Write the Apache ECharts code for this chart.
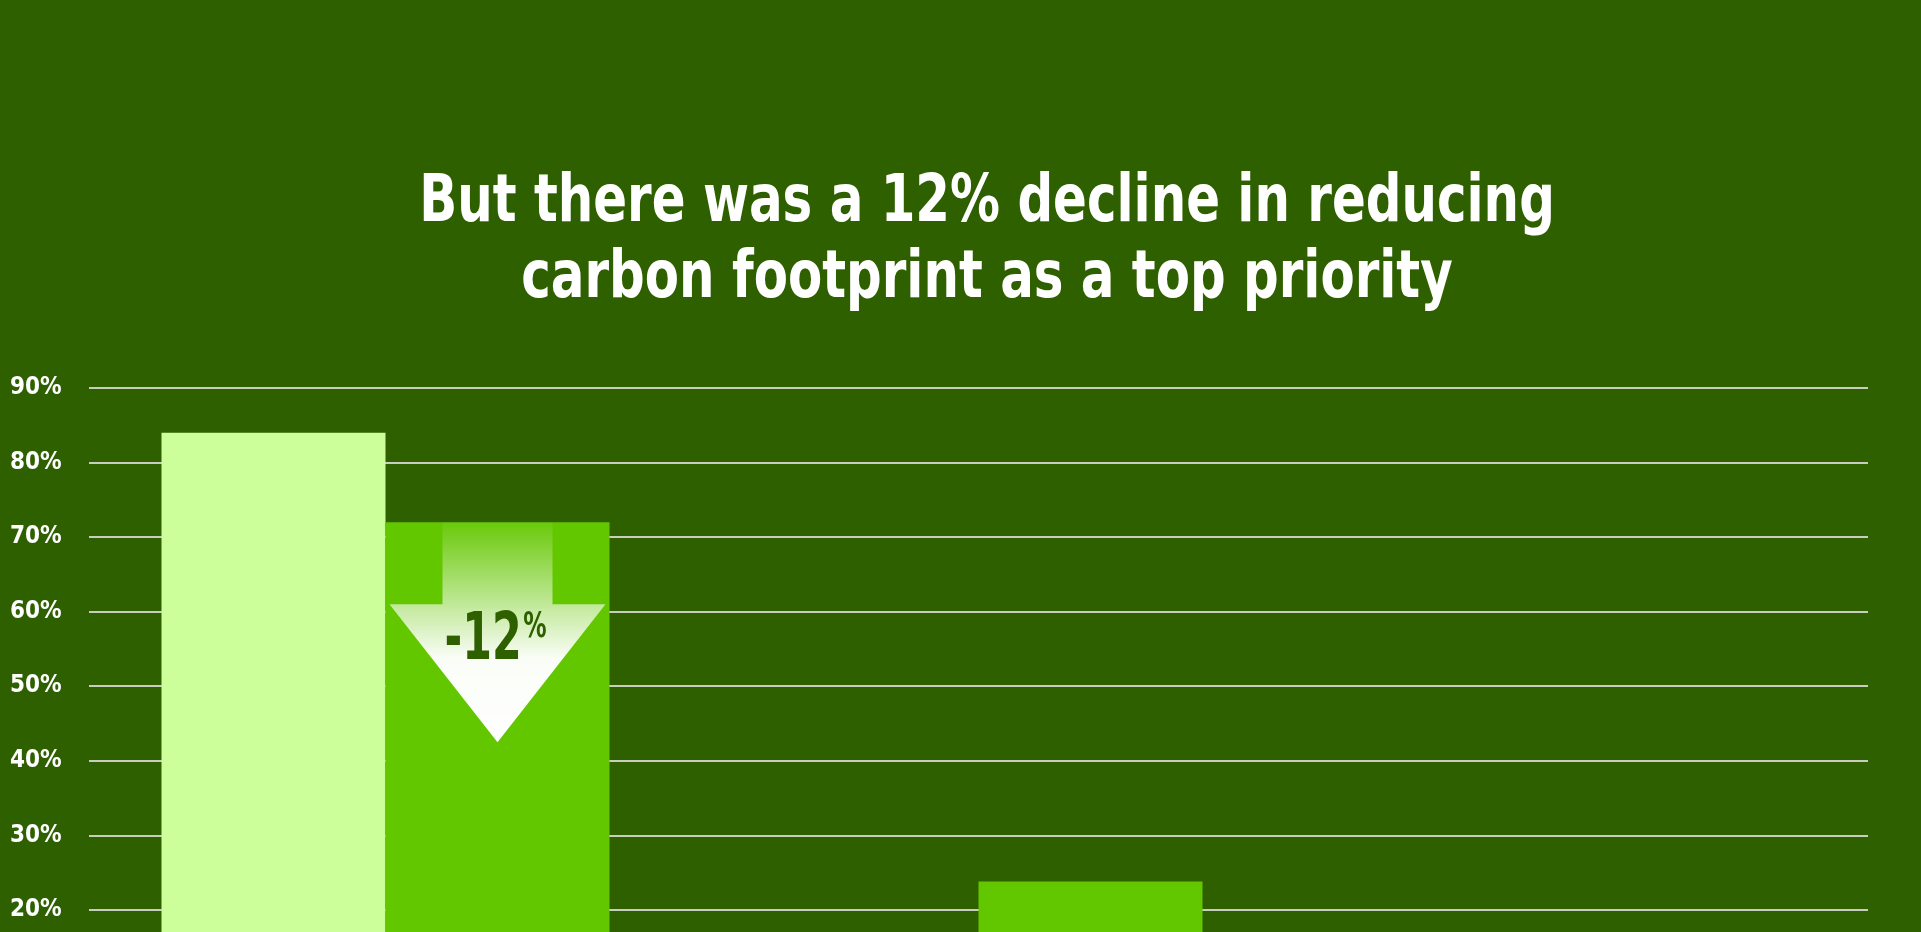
<!DOCTYPE html>
<html>
<head>
<meta charset="utf-8">
<script src="https://cdn.jsdelivr.net/npm/echarts@6/dist/echarts.min.js"></script>
<style>
html,body{margin:0;padding:0;background:#2f6000;}
#chart{width:1921px;height:932px;}
</style>
</head>
<body>
<div id="chart"></div>
<script>
// ---- data ----
const categories = ['Reducing carbon footprint', 'Priority B', 'Priority C'];
const previousValues = [84, 15, 8];
const currentValues = [72, 23.8, 10];
const yTicks = [0, 10, 20, 30, 40, 50, 60, 70, 80, 90];
const changeLabel = '-12';
const titleLines = ['But there was a 12% decline in reducing', 'carbon footprint as a top priority'];

const FONT = '"DejaVu Sans Condensed", "Liberation Sans", sans-serif';
const BG = '#2f6000';
const LIGHT = '#ccff99';
const DARK = '#63c700';

const chart = echarts.init(document.getElementById('chart'), null, {renderer: 'canvas'});

const option = {
  backgroundColor: BG,
  animation: false,
  grid: {left: 89, right: 53, top: 388, bottom: -127, containLabel: false, outerBoundsMode: 'none'},
  xAxis: {
    type: 'category',
    data: categories,
    axisLine: {show: false},
    axisTick: {show: false},
    axisLabel: {show: false},
    splitLine: {show: false}
  },
  yAxis: {
    type: 'value',
    min: yTicks[0],
    max: yTicks[yTicks.length - 1],
    interval: 10,
    axisLine: {show: false},
    axisTick: {show: false},
    axisLabel: {
      formatter: '{value}%',
      color: '#ffffff',
      fontFamily: FONT,
      fontWeight: 'bold',
      fontSize: 24,
      align: 'left',
      margin: 79
    },
    splitLine: {lineStyle: {color: '#c8cdc0', width: 2}}
  },
  series: [
    {
      name: 'Previous',
      type: 'bar',
      data: previousValues,
      barWidth: 224,
      barGap: '0%',
      itemStyle: {color: LIGHT}
    },
    {
      name: 'Current',
      type: 'bar',
      data: currentValues,
      barWidth: 224,
      barGap: '0%',
      itemStyle: {color: DARK}
    }
  ]
};
chart.setOption(option);

// ---- title (condensed by horizontal scale) and decline arrow positioned from data ----
function drawOverlay() {
  const top = chart.convertToPixel({seriesIndex: 1}, [0, currentValues[0]]);
  const headBase = chart.convertToPixel({seriesIndex: 1}, [0, currentValues[0] - 11]);
  const tip = chart.convertToPixel({seriesIndex: 1}, [0, currentValues[0] - 29.5]);
  const cx = top[0] + 112; // centre of second bar of group
  const half = 108, shaft = 55;
  const y0 = top[1], y1 = headBase[1], y2 = tip[1];
  const h = y2 - y0;
  const pts = [
    [cx - shaft, y0], [cx + shaft, y0], [cx + shaft, y1], [cx + half, y1],
    [cx, y2], [cx - half, y1], [cx - shaft, y1]
  ];
  chart.setOption({
    graphic: [
      {
        type: 'text',
        x: 987,
        y: 166,
        scaleX: 0.84,
        style: {
          text: titleLines.join('\n'),
          align: 'center',
          verticalAlign: 'top',
          fontFamily: FONT,
          fontWeight: 'bold',
          fontSize: 66,
          lineHeight: 76,
          fill: '#ffffff'
        },
        z: 12
      },
      {
        type: 'polygon',
        shape: {points: pts},
        style: {
          fill: new echarts.graphic.LinearGradient(0, 0, 0, 1, [
            {offset: 0, color: 'rgba(255,255,255,0.04)'},
            {offset: (y1 - y0) / h, color: 'rgba(255,255,255,0.6)'},
            {offset: 0.62, color: 'rgba(255,255,255,0.97)'},
            {offset: 1, color: '#ffffff'}
          ])
        },
        z: 10
      },
      {
        type: 'text',
        x: cx - 2,
        y: y1 + 38,
        scaleX: 0.72,
        style: {
          text: '{n|' + changeLabel + '}{p|%}',
          align: 'center',
          verticalAlign: 'middle',
          rich: {
            n: {fontFamily: FONT, fontWeight: 'bold', fontSize: 66, fill: BG, color: BG},
            p: {fontFamily: FONT, fontWeight: 'bold', fontSize: 36, fill: BG, color: BG, verticalAlign: 'top', padding: [0, 0, 30, 2]}
          }
        },
        z: 11
      }
    ]
  });
}
drawOverlay();
</script>
</body>
</html>
